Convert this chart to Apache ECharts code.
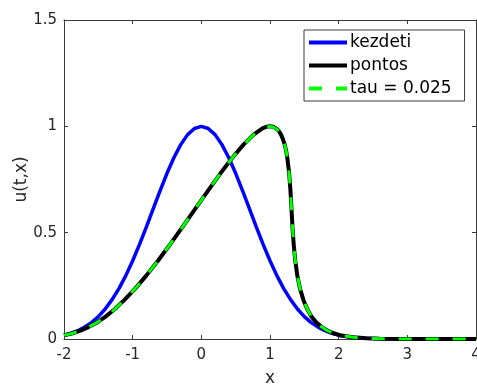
<!DOCTYPE html>
<html>
<head>
<meta charset="utf-8">
<script src="https://cdn.jsdelivr.net/npm/echarts@6/dist/echarts.min.js"></script>
<style>
  html, body { margin: 0; padding: 0; background: #fff; }
  #chart { width: 477px; height: 386px; }
</style>
</head>
<body>
<div id="chart"></div>
<script>
// Initial profile u(0,x)
const xInit = [-2.0, -1.9, -1.8, -1.7, -1.6, -1.5, -1.4, -1.3, -1.2, -1.1, -1.0, -0.9, -0.8, -0.7, -0.6, -0.5,
               -0.4, -0.3, -0.2, -0.1, 0.0, 0.1, 0.2, 0.3, 0.4, 0.5, 0.6, 0.7, 0.8, 0.9, 1.0, 1.1, 1.2,
               1.3, 1.4, 1.5, 1.6, 1.7, 1.8, 1.9, 2.0, 2.1, 2.2, 2.3, 2.4, 2.5, 2.6, 2.8, 3.0, 3.5, 4.0];
const uInit = [0.018, 0.027, 0.039, 0.056, 0.077, 0.105, 0.141, 0.185, 0.237, 0.298, 0.368, 0.445, 0.527, 0.613, 0.698, 0.779,
               0.852, 0.914, 0.961, 0.990, 1.000, 0.990, 0.961, 0.914, 0.852, 0.779, 0.698, 0.613, 0.527, 0.445, 0.368, 0.298, 0.237,
               0.185, 0.141, 0.105, 0.077, 0.056, 0.039, 0.027, 0.018, 0.012, 0.008, 0.005, 0.003, 0.002, 0.001, 0.000, 0.000, 0.000, 0.000];

// Exact solution at the final time
const xExact = [-2.0, -1.982, -1.873, -1.761, -1.644, -1.523, -1.395, -1.259, -1.116, -0.963, -0.802, -0.632,
                -0.455, -0.273, -0.087, 0.098, 0.279, 0.452, 0.614, 0.761, 0.890, 0.948, 1.000, 1.048, 1.090,
                1.128, 1.161, 1.189, 1.214, 1.235, 1.252, 1.279, 1.298, 1.313, 1.327, 1.345, 1.368, 1.398,
                1.437, 1.485, 1.541, 1.605, 1.677, 1.756, 1.839, 1.927, 2.018, 2.208, 2.403, 2.601, 3.000, 4.000];
const uExact = [0.017, 0.018, 0.027, 0.039, 0.056, 0.077, 0.105, 0.141, 0.185, 0.237, 0.298, 0.368,
                0.445, 0.527, 0.613, 0.698, 0.779, 0.852, 0.914, 0.961, 0.990, 0.998, 1.000, 0.998, 0.990,
                0.978, 0.961, 0.939, 0.914, 0.885, 0.852, 0.779, 0.698, 0.613, 0.527, 0.445, 0.368, 0.298,
                0.237, 0.185, 0.141, 0.105, 0.077, 0.056, 0.039, 0.027, 0.018, 0.008, 0.003, 0.001, 0.000, 0.000];

// Numerical solution, tau = 0.025
const xNum = [-2.0, -1.982, -1.873, -1.761, -1.644, -1.523, -1.395, -1.259, -1.116, -0.963, -0.802, -0.632,
              -0.455, -0.273, -0.087, 0.098, 0.279, 0.452, 0.614, 0.761, 0.890, 0.948, 1.000, 1.048, 1.090,
              1.128, 1.161, 1.189, 1.214, 1.235, 1.252, 1.279, 1.298, 1.313, 1.327, 1.345, 1.368, 1.398,
              1.437, 1.485, 1.541, 1.605, 1.677, 1.756, 1.839, 1.927, 2.018, 2.208, 2.403, 2.601, 3.000, 4.000];
const uNum = [0.017, 0.018, 0.027, 0.039, 0.056, 0.077, 0.105, 0.141, 0.185, 0.237, 0.298, 0.368,
              0.445, 0.527, 0.613, 0.698, 0.779, 0.852, 0.914, 0.961, 0.989, 0.997, 0.999, 0.997, 0.989,
              0.977, 0.960, 0.939, 0.914, 0.885, 0.852, 0.779, 0.698, 0.613, 0.528, 0.446, 0.369, 0.299,
              0.238, 0.185, 0.141, 0.105, 0.077, 0.056, 0.039, 0.027, 0.018, 0.008, 0.003, 0.001, 0.000, 0.000];

const xTicks = [-2, 4, 1];   // min, max, step
const yTicks = [0, 1.5, 0.5];

const seriesNames = ['kezdeti', 'pontos', 'tau = 0.025'];

const pairs = (xs, ys) => xs.map((x, i) => [x, ys[i]]);

const FONT = 'DejaVu Sans';
const AXIS_COLOR = '#3a3a3a';

const chart = echarts.init(document.getElementById('chart'), null, { renderer: 'canvas' });

// Shared look of the four frame axes
const frameAxis = () => ({
  axisLine: { show: true, onZero: false, lineStyle: { color: AXIS_COLOR, width: 1 } },
  axisTick: { show: true, inside: true, length: 4, lineStyle: { color: AXIS_COLOR } },
  splitLine: { show: false }
});

chart.setOption({
  animation: false,
  backgroundColor: '#ffffff',
  textStyle: { fontFamily: FONT },
  grid: { left: 64, right: 1, top: 20, bottom: 47, containLabel: false, outerBoundsMode: 'none' },
  xAxis: [
    Object.assign({
      type: 'value', min: xTicks[0], max: xTicks[1], interval: xTicks[2],
      position: 'bottom',
      name: 'x', nameLocation: 'middle', nameGap: 31, nameMoveOverlap: false,
      nameTextStyle: { fontFamily: FONT, fontSize: 17, color: '#262626' },
      axisLabel: { fontFamily: FONT, fontSize: 15, color: '#262626', margin: 9 }
    }, frameAxis()),
    Object.assign({
      type: 'value', min: xTicks[0], max: xTicks[1], interval: xTicks[2],
      position: 'top', axisLabel: { show: false }
    }, frameAxis())
  ],
  yAxis: [
    Object.assign({
      type: 'value', min: yTicks[0], max: yTicks[1], interval: yTicks[2],
      position: 'left',
      name: 'u(t,x)', nameLocation: 'middle', nameGap: 34, nameRotate: 90, nameMoveOverlap: false,
      nameTextStyle: { fontFamily: FONT, fontSize: 17, color: '#262626' },
      axisLabel: { fontFamily: FONT, fontSize: 15, color: '#262626', margin: 7 }
    }, frameAxis()),
    Object.assign({
      type: 'value', min: yTicks[0], max: yTicks[1], interval: yTicks[2],
      position: 'right', axisLabel: { show: false }
    }, frameAxis())
  ],
  legend: {
    orient: 'vertical',
    left: 304, top: 30,
    data: seriesNames,
    backgroundColor: '#ffffff',
    borderColor: AXIS_COLOR, borderWidth: 1,
    padding: [4, 13, 4, 3],
    itemWidth: 38, itemHeight: 14, itemGap: 6,
    itemStyle: { opacity: 0 },
    lineStyle: { width: 4 },
    textStyle: { fontFamily: FONT, fontSize: 17, color: '#000', padding: [0, 0, 0, -2] }
  },
  series: [
    {
      name: seriesNames[0], type: 'line', smooth: false, symbol: 'none',
      xAxisIndex: 0, yAxisIndex: 0,
      data: pairs(xInit, uInit),
      lineStyle: { color: '#0000ff', width: 3.5 },
      itemStyle: { color: '#0000ff' }
    },
    {
      name: seriesNames[1], type: 'line', smooth: false, symbol: 'none',
      xAxisIndex: 0, yAxisIndex: 0,
      data: pairs(xExact, uExact),
      lineStyle: { color: '#000000', width: 4 },
      itemStyle: { color: '#000000' }
    },
    {
      name: seriesNames[2], type: 'line', smooth: false, symbol: 'none',
      xAxisIndex: 0, yAxisIndex: 0,
      data: pairs(xNum, uNum),
      lineStyle: { color: '#00ff00', width: 3, type: [13, 14] },
      itemStyle: { color: '#00ff00' }
    }
  ]
});
</script>
</body>
</html>
